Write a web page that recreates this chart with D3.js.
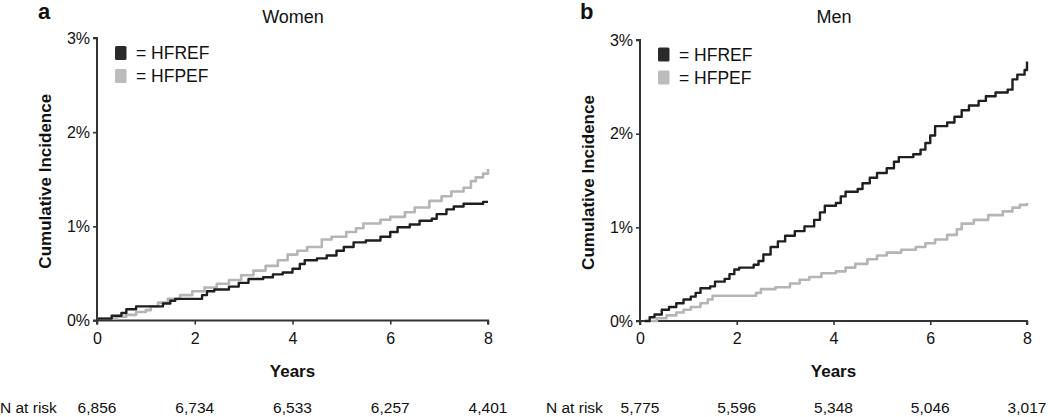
<!DOCTYPE html>
<html><head><meta charset="utf-8">
<script src="https://cdn.jsdelivr.net/npm/d3@7"></script>
<style>body{margin:0;background:#fff}svg{display:block;font-family:"Liberation Sans",Arial,sans-serif}</style>
</head><body><svg id="c" width="1050" height="417"></svg>
<script>
const xTicks = [0, 2, 4, 6, 8];
const yTicks = [0, 1, 2, 3];
const seriesNames = ["HFREF", "HFPEF"];
const panelLetters = ["a", "b"];
const panelTitles = ["Women", "Men"];
const riskWomen = ["6,856", "6,734", "6,533", "6,257", "4,401"];
const riskMen = ["5,775", "5,596", "5,348", "5,046", "3,017"];

// [years, cumulative incidence %]
const womenHFREF = [[0,0.02],[0.3,0.05],[0.5,0.08],[0.6,0.12],[0.8,0.15],[1.35,0.18],[1.5,0.21],[1.6,0.23],[2.15,0.27],[2.25,0.31],[2.4,0.33],[2.7,0.36],[2.9,0.40],[3.1,0.44],[3.4,0.46],[3.6,0.49],[3.8,0.51],[4.0,0.55],[4.15,0.60],[4.25,0.64],[4.5,0.66],[4.7,0.69],[4.9,0.74],[5.05,0.78],[5.25,0.83],[5.5,0.85],[5.8,0.89],[6.0,0.94],[6.15,0.99],[6.4,1.02],[6.6,1.06],[6.85,1.08],[6.95,1.13],[7.15,1.18],[7.3,1.21],[7.5,1.24],[7.9,1.26],[8.0,1.26]];
const womenHFPEF = [[0,0.02],[0.4,0.04],[0.6,0.06],[0.8,0.09],[1.0,0.11],[1.1,0.15],[1.25,0.19],[1.45,0.23],[1.7,0.27],[1.95,0.31],[2.2,0.35],[2.45,0.39],[2.7,0.43],[2.95,0.48],[3.2,0.53],[3.45,0.58],[3.7,0.64],[3.9,0.70],[4.1,0.74],[4.3,0.78],[4.6,0.86],[4.8,0.89],[5.1,0.94],[5.3,0.98],[5.45,1.03],[5.8,1.07],[6.0,1.10],[6.3,1.15],[6.5,1.20],[6.8,1.27],[7.05,1.32],[7.25,1.37],[7.5,1.41],[7.65,1.48],[7.75,1.52],[7.9,1.56],[8.0,1.61]];
const menHFREF = [[0.1,0.0],[0.2,0.04],[0.3,0.07],[0.45,0.12],[0.6,0.15],[0.75,0.19],[0.9,0.23],[1.05,0.26],[1.15,0.30],[1.25,0.35],[1.45,0.37],[1.55,0.42],[1.75,0.45],[1.85,0.50],[1.95,0.55],[2.05,0.57],[2.35,0.60],[2.45,0.64],[2.55,0.71],[2.7,0.79],[2.85,0.85],[3.0,0.91],[3.2,0.96],[3.4,1.01],[3.6,1.08],[3.72,1.16],[3.82,1.23],[4.05,1.26],[4.15,1.33],[4.25,1.38],[4.5,1.41],[4.6,1.47],[4.75,1.53],[4.9,1.58],[5.1,1.63],[5.25,1.70],[5.35,1.75],[5.65,1.78],[5.8,1.83],[5.9,1.90],[6.0,1.98],[6.1,2.08],[6.35,2.12],[6.5,2.18],[6.65,2.25],[6.8,2.30],[7.0,2.35],[7.15,2.40],[7.35,2.44],[7.6,2.47],[7.7,2.58],[7.8,2.63],[7.95,2.68],[8.0,2.77]];
const menHFPEF = [[0.2,0.0],[0.35,0.03],[0.55,0.06],[0.75,0.09],[0.9,0.12],[1.05,0.15],[1.25,0.19],[1.4,0.23],[1.5,0.27],[2.4,0.30],[2.5,0.34],[2.8,0.36],[3.1,0.40],[3.3,0.44],[3.5,0.47],[3.75,0.51],[4.05,0.53],[4.25,0.57],[4.45,0.61],[4.7,0.66],[4.9,0.70],[5.1,0.73],[5.4,0.76],[5.7,0.79],[5.9,0.83],[6.1,0.87],[6.35,0.92],[6.55,0.98],[6.65,1.04],[6.9,1.08],[7.2,1.13],[7.5,1.17],[7.7,1.21],[7.85,1.24],[8.0,1.26]];

const colors = ["#1f1f1f", "#b5b5b5"];
const svg = d3.select("#c");

const panels = [
  {x0: 97, x1: 488, y0: 320.5, y1: 38, letterX: 38, titleX: 293, labelX: 51, legX: 115, riskLabelX: 0, risk: riskWomen, data: [womenHFREF, womenHFPEF]},
  {x0: 640, x1: 1027, y0: 321, y1: 40, letterX: 580, titleX: 834, labelX: 594, legX: 658, riskLabelX: 546, risk: riskMen, data: [menHFREF, menHFPEF]}
];

panels.forEach((p, i) => {
  const x = d3.scaleLinear().domain([0, 8]).range([p.x0, p.x1]);
  const y = d3.scaleLinear().domain([0, 3]).range([p.y0, p.y1]);
  const g = svg.append("g");

  // axes
  const ya = g.append("g").attr("transform", `translate(${p.x0},0)`)
    .call(d3.axisLeft(y).tickValues(yTicks).tickFormat(d => d + "%").tickSize(4).tickPadding(3));
  const xa = g.append("g").attr("transform", `translate(0,${p.y0})`)
    .call(d3.axisBottom(x).tickValues(xTicks).tickSize(4).tickPadding(8));
  [ya, xa].forEach(a => {
    a.select(".domain").attr("stroke", "#333").attr("stroke-width", 2);
    a.selectAll(".tick line").attr("stroke", "#333").attr("stroke-width", 1.6);
    a.selectAll("text").attr("fill", "#111").style("font-size", "16px").style("font-family", "Liberation Sans, Arial, sans-serif");
  });
  ya.selectAll(".domain").attr("d", `M-4,${p.y1}H0V${p.y0}H-4`);
  xa.select(".domain").attr("d", `M${p.x0},4V0H${p.x1}V4`);

  // lines
  const line = d3.line().x(d => x(d[0])).y(d => y(d[1])).curve(d3.curveStepAfter);
  [1, 0].forEach(k => {
    g.append("path").datum(p.data[k]).attr("d", line)
      .attr("fill", "none").attr("stroke", colors[k])
      .attr("stroke-width", k === 0 ? 2.4 : 2.6).attr("stroke-linejoin", "round");
  });

  // legend
  seriesNames.forEach((s, k) => {
    const yy = 46 + k * 23 + i * 1.5;
    g.append("rect").attr("x", p.legX).attr("y", yy).attr("width", 11.5).attr("height", 14)
      .attr("rx", 1.5).attr("fill", k === 0 ? "#2a2a2a" : "#bcbcbc");
    g.append("text").attr("x", p.legX + 21).attr("y", yy + 13.3).text("= " + s)
      .style("font-size", "17.5px").attr("fill", "#111");
  });

  // titles
  g.append("text").attr("x", p.letterX).attr("y", 19).text(panelLetters[i])
    .style("font-size", "22px").style("font-weight", "bold").attr("fill", "#111");
  g.append("text").attr("x", p.titleX).attr("y", 23).attr("text-anchor", "middle")
    .text(panelTitles[i]).style("font-size", "18px").attr("fill", "#111");
  g.append("text").attr("transform", `translate(${p.labelX},${(p.y0 + p.y1) / 2 + 2}) rotate(-90)`)
    .attr("text-anchor", "middle").text("Cumulative Incidence")
    .style("font-size", "17px").style("font-weight", "bold").attr("fill", "#111");
  g.append("text").attr("x", (p.x0 + p.x1) / 2).attr("y", 376.5).attr("text-anchor", "middle")
    .text("Years").style("font-size", "17px").style("font-weight", "bold").attr("fill", "#111");

  // N at risk
  g.append("text").attr("x", p.riskLabelX).attr("y", 412.5).text("N at risk")
    .style("font-size", "15.5px").attr("fill", "#111");
  g.selectAll(".risk").data(p.risk).enter().append("text")
    .attr("x", (d, j) => x(xTicks[j])).attr("y", 412.5).attr("text-anchor", "middle")
    .text(d => d).style("font-size", "15.5px").attr("fill", "#111");
});
</script></body></html>
